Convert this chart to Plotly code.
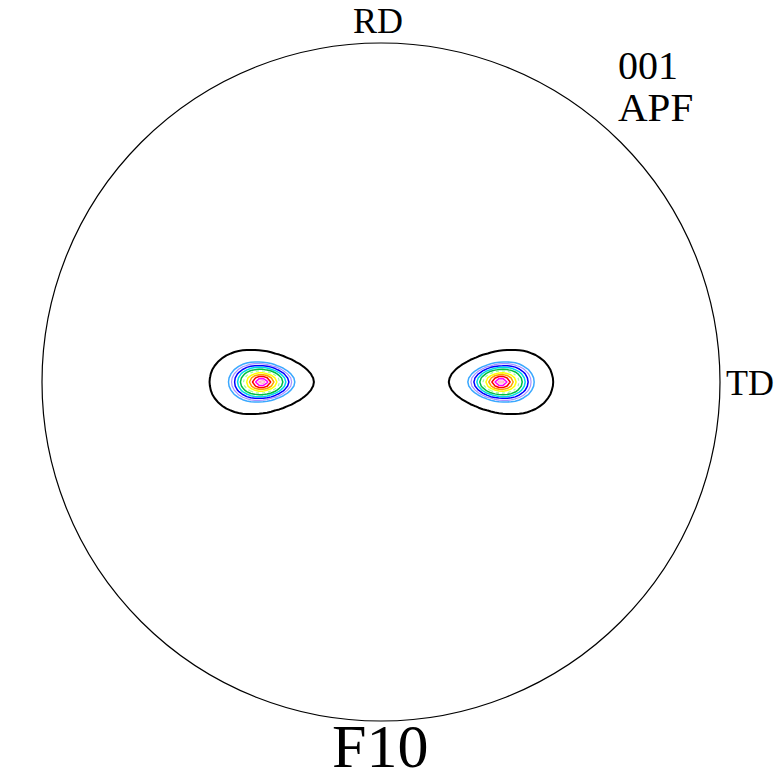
import numpy as np
import plotly.graph_objects as go

# ---- data ----
peak_x = [-0.352, 0.354]          # pole positions (unit circle)
peak_y = [0.0, 0.0]
decay = 0.0295                    # exponential decay length (units of radius)
aspect = 0.6                      # y/x elongation of poles
egg = 0.22                        # egg-shape skew (pointing toward centre)
levels = [0.55, 3.7, 5.0, 6.7, 9.1, 12.2, 16.5, 22.3, 30.1, 40.7, 54.9, 74.0]
level_colors = ["#000000", "#3aa8ff", "#a890ff", "#0000ff", "#00d8e8", "#00c040",
                "#a0ffa0", "#ffff00", "#ffa000", "#ff0000", "#ff00ff", "#ffb0c8"]
level_widths = [2.0, 1.5, 1.2, 1.5, 1.5, 1.5, 1.2, 1.5, 1.5, 1.5, 1.5, 1.2]
level_dash = ["solid", "solid", "solid", "solid", "solid", "solid", "dot",
              "solid", "solid", "solid", "solid", "solid"]
labels = {"top": "RD", "right": "TD", "corner1": "001", "corner2": "APF", "bottom": "F10"}

W, H = 783, 782
cx_px, cy_px, R_px = 381, 382, 339

# ---- field (coarse grid like a measured pole figure) ----
step = 0.012
gx = np.arange(-0.66, 0.66 + step / 2, step)
gy = np.arange(-0.24, 0.24 + step / 2, step)
X, Y = np.meshgrid(gx, gy)
Z = np.zeros_like(X)
for px, py in zip(peak_x, peak_y):
    out_sign = -1.0 if px < 0 else 1.0
    u = (X - px) * out_sign / 0.15
    asp = aspect * np.clip(1 + egg * u, 0.6, 1.4)
    rho = np.sqrt((X - px) ** 2 + ((Y - py) / asp) ** 2)
    Z = np.maximum(Z, 100 * np.exp(-rho / decay))

fig = go.Figure()
for L, c, w, d in zip(levels, level_colors, level_widths, level_dash):
    fig.add_trace(go.Contour(
        x=gx, y=gy, z=Z,
        contours=dict(start=L, end=L, size=1, coloring="none"),
        line=dict(color=c, width=w, dash=d, smoothing=0),
        showscale=False, hoverinfo="skip",
    ))

x0 = -cx_px / R_px
x1 = (W - cx_px) / R_px
y1 = cy_px / R_px
y0 = -(H - cy_px) / R_px

fig.add_shape(type="circle", x0=-1, y0=-1, x1=1, y1=1,
              line=dict(color="black", width=1.2), layer="above")

serif = "Liberation Serif"

def ann(text, px, py, size, xanchor="center", yanchor="middle"):
    fig.add_annotation(text=text, x=px / W, y=1 - py / H, xref="paper", yref="paper",
                       xanchor=xanchor, yanchor=yanchor, showarrow=False,
                       font=dict(family=serif, size=size, color="black"), align="left")

ann(labels["top"], 378, 21, 36)
ann(labels["right"], 724, 383, 36, xanchor="left")
ann(labels["corner1"], 616, 65, 40, xanchor="left")
ann(labels["corner2"], 616, 107, 41, xanchor="left")
ann(labels["bottom"], 380, 782, 62, yanchor="bottom")

fig.update_layout(
    width=W, height=H, margin=dict(l=0, r=0, t=0, b=0),
    paper_bgcolor="white", plot_bgcolor="white", showlegend=False,
    xaxis=dict(range=[x0, x1], visible=False, fixedrange=True),
    yaxis=dict(range=[y0, y1], visible=False, fixedrange=True),
)
fig.write_html("out.html")
